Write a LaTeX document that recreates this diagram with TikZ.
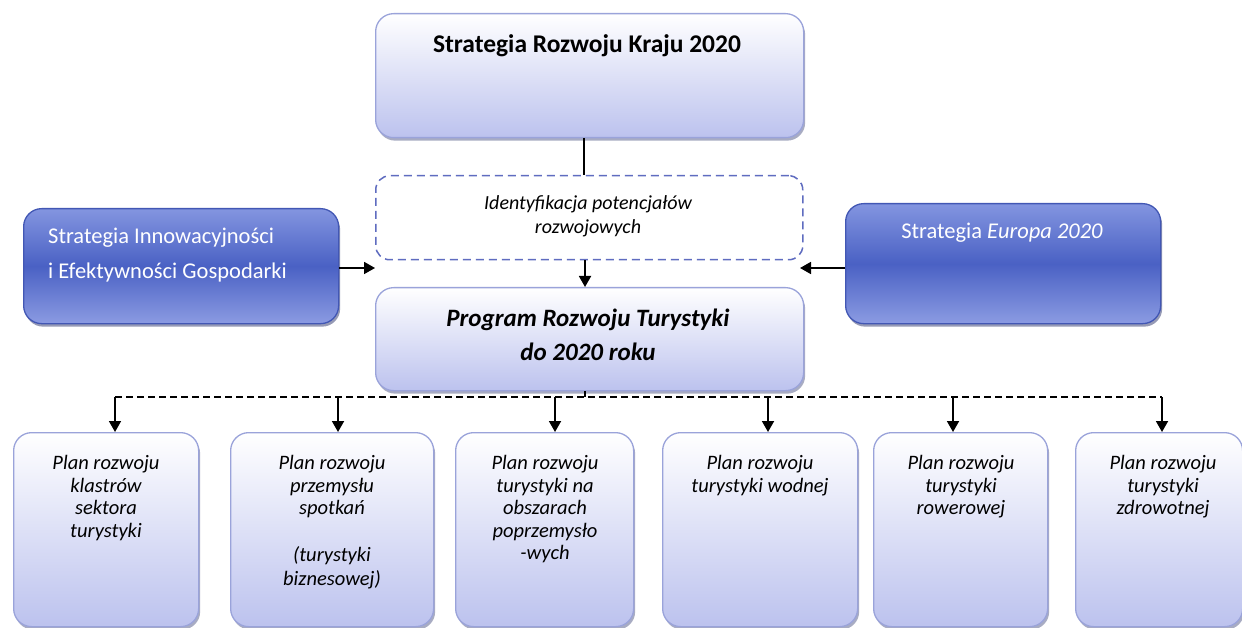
\documentclass[tikz,border=0pt]{standalone}
\usepackage{fontspec}
\setmainfont{Carlito}
\usetikzlibrary{shadows,arrows.meta}
\definecolor{lbord}{HTML}{9AA3DA}
\definecolor{lbot}{HTML}{BCC2EE}
\definecolor{dtop}{HTML}{8395E0}
\definecolor{dmid}{HTML}{4A61C4}
\definecolor{dbot}{HTML}{8B9BE2}
\definecolor{dbord}{HTML}{4257B4}
\definecolor{dashc}{HTML}{5F6CC0}
\definecolor{shad}{HTML}{40487A}
\tikzset{
  lightbox/.style={draw=lbord, line width=1.3pt, rounded corners=18pt,
    top color=white, bottom color=lbot, anchor=north west, inner sep=0pt,
    drop shadow={shadow xshift=1.5pt, shadow yshift=-3pt, fill=shad, opacity=0.45}},
  darkbox/.style={draw=dbord, line width=1.3pt, rounded corners=18pt,
    top color=dtop, bottom color=dbot, middle color=dmid, anchor=north west, inner sep=0pt,
    drop shadow={shadow xshift=1.5pt, shadow yshift=-3pt, fill=shad, opacity=0.55}},
  dashbox/.style={draw=dashc, line width=1.5pt, dash pattern=on 8pt off 5pt,
    rounded corners=14pt, anchor=north west, inner sep=0pt},
  btxt/.style={anchor=north, inner sep=0pt, align=center, font=\fontsize{20.5}{22.6}\selectfont\itshape},
  arr/.style={line width=1.8pt, -{Triangle[length=11pt,width=12pt]}},
  conn/.style={line width=1.3pt},
  busline/.style={line width=1.4pt, dash pattern=on 7pt off 4pt}
}
\begin{document}
\begin{tikzpicture}[x=1pt,y=-1pt]
\useasboundingbox[fill=white] (0,0) rectangle (1242,628);

% top
\node[lightbox, minimum width=428pt, minimum height=124pt] (srk) at (375,13) {};
\node[anchor=center, inner sep=0pt, font=\fontsize{25.5}{30}\selectfont\bfseries] (srkt) at (587,46) {Strategia Rozwoju Kraju 2020};

% dashed
\node[dashbox, minimum width=427pt, minimum height=84pt] (idp) at (375,175) {};
\node[anchor=center, inner sep=0pt, align=center, font=\fontsize{20}{24}\selectfont\itshape] (idpt) at (588,216) {Identyfikacja potencjałów\\rozwojowych};

% program
\node[lightbox, minimum width=428pt, minimum height=103pt] (prt) at (375,287) {};
\node[anchor=center, inner sep=0pt, align=center, font=\fontsize{25}{34}\selectfont\bfseries\itshape] (prtt) at (588,335) {Program Rozwoju Turystyki\\do 2020 roku};

% left
\node[darkbox, minimum width=315pt, minimum height=115pt] (sie) at (23,208) {};
\node[anchor=west, inner sep=0pt, align=left, text=white, font=\fontsize{22.5}{35}\selectfont] (siet) at (48,255) {Strategia Innowacyjności\\i Efektywności Gospodarki};

% right
\node[darkbox, minimum width=315pt, minimum height=120pt] (se) at (845,203) {};
\node[anchor=center, inner sep=0pt, text=white, font=\fontsize{22.5}{26}\selectfont] (set) at (1002,233) {Strategia \textit{Europa 2020}};

% bottom boxes
\node[lightbox, minimum width=185pt, minimum height=194pt] (b1) at (13,432) {};
\node[lightbox, minimum width=203pt, minimum height=194pt] (b2) at (230,432) {};
\node[lightbox, minimum width=178pt, minimum height=194pt] (b3) at (455,432) {};
\node[lightbox, minimum width=195pt, minimum height=194pt] (b4) at (662,432) {};
\node[lightbox, minimum width=174pt, minimum height=194pt] (b5) at (873,432) {};
\node[lightbox, minimum width=167pt, minimum height=194pt] (b6) at (1075,432) {};

\node[btxt] (t1) at (106,455) {Plan rozwoju\\klastrów\\sektora\\turystyki};
\node[btxt] (t2) at (332,455) {Plan rozwoju\\przemysłu\\spotkań\\[24pt](turystyki\\[2pt]biznesowej)};
\node[btxt] (t3) at (545,455) {Plan rozwoju\\turystyki na\\obszarach\\poprzemysło\\-wych};
\node[btxt] (t4) at (760,455) {Plan rozwoju\\turystyki wodnej};
\node[btxt] (t5) at (961,455) {Plan rozwoju\\turystyki\\rowerowej};
\node[btxt] (t6) at (1163,455) {Plan rozwoju\\turystyki\\zdrowotnej};

% connectors
\draw[conn] (srk.south -| 584,0) -- (idp.north -| 584,0);
\draw[arr] (idp.south -| 585,0) -- (prt.north -| 585,0);
\coordinate (inL) at (375,268);
\coordinate (inR) at (800,268);
\draw[arr] (sie.east |- inL) -- (inL);
\draw[arr] (se.west |- inR) -- (inR);

\coordinate (bus) at (585,397);
\draw[conn] (prt.south -| bus) -- (bus);
\coordinate (a1) at (115,397);
\coordinate (a2) at (338,397);
\coordinate (a3) at (555,397);
\coordinate (a4) at (768,397);
\coordinate (a5) at (953,397);
\coordinate (a6) at (1162,397);
\draw[busline] (a1) -- (a6);
\draw[arr] (a1) -- (a1 |- b1.north);
\draw[arr] (a2) -- (a2 |- b2.north);
\draw[arr] (a3) -- (a3 |- b3.north);
\draw[arr] (a4) -- (a4 |- b4.north);
\draw[arr] (a5) -- (a5 |- b5.north);
\draw[arr] (a6) -- (a6 |- b6.north);
\end{tikzpicture}
\end{document}
